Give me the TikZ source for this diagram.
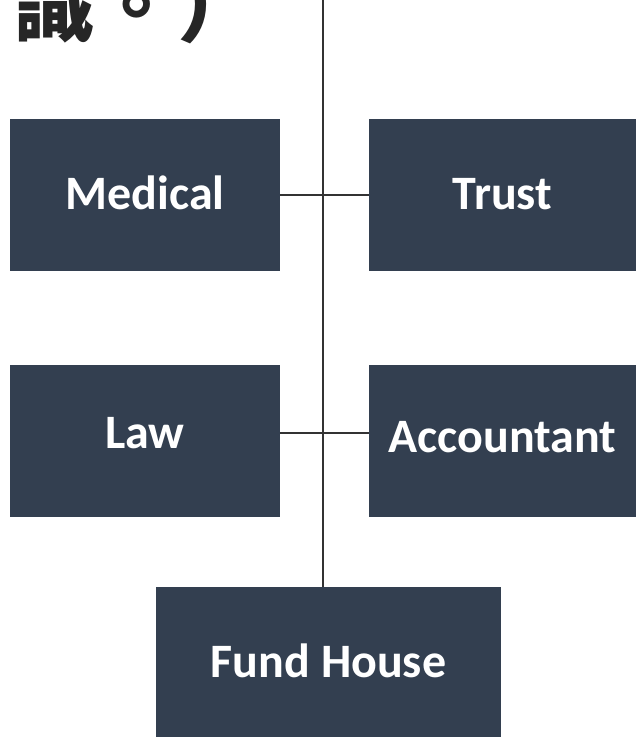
\documentclass[tikz,border=0pt]{standalone}
\usepackage{fontspec}
\setmainfont{Carlito}
\newfontfamily\cjkfont{Noto Sans CJK TC}
\usepackage{tikz}
\usetikzlibrary{positioning, calc}
\definecolor{SlateBox}{HTML}{333F50}
\definecolor{LinkGray}{HTML}{333333}
\definecolor{TitleInk}{HTML}{262626}
\tikzset{
  % Box styles
  orgbox/.style={rectangle, draw=none, fill=SlateBox, text=white, inner sep=0pt, minimum width=270pt, minimum height=152pt, font=\fontsize{48}{56}\selectfont\bfseries, align=center, text height=31pt, text depth=0pt},
  % Line styles
  link/.style={draw=LinkGray, line width=1.5pt}
}

\begin{document}
\begin{tikzpicture}[x=1pt, y=-1pt]
  \useasboundingbox (0,0) rectangle (636,737);
  \clip (0,0) rectangle (636,737);

  % Title (cut off at the top)
  \node[anchor=base west, inner sep=0pt, text=TitleInk, font=\cjkfont\bfseries\fontsize{82}{90}\selectfont] (title) at (13,35) {識。）};

  % Boxes
  \node[orgbox, text depth=3pt] (medical) at (145,195) {Medical};
  \node[orgbox, minimum width=267pt, text depth=3pt] (trust) at (502.5,195) {Trust};
  \node[orgbox, text depth=16pt] (law) at (145,441) {Law};
  \node[orgbox, minimum width=267pt, text depth=8pt] (accountant) at (502.5,441) {Accountant};
  \node[orgbox, minimum width=345pt, minimum height=150pt] (fund) at (328.5,662) {Fund House};

  % Lines
  \coordinate (spine) at (323,0);
  \draw[link] (spine) -- (spine |- fund.north);
  \draw[link] (medical.east) -- (trust.west);
  \draw[link] ([yshift=8pt]law.east) -- ([yshift=8pt]accountant.west);
\end{tikzpicture}
\end{document}
